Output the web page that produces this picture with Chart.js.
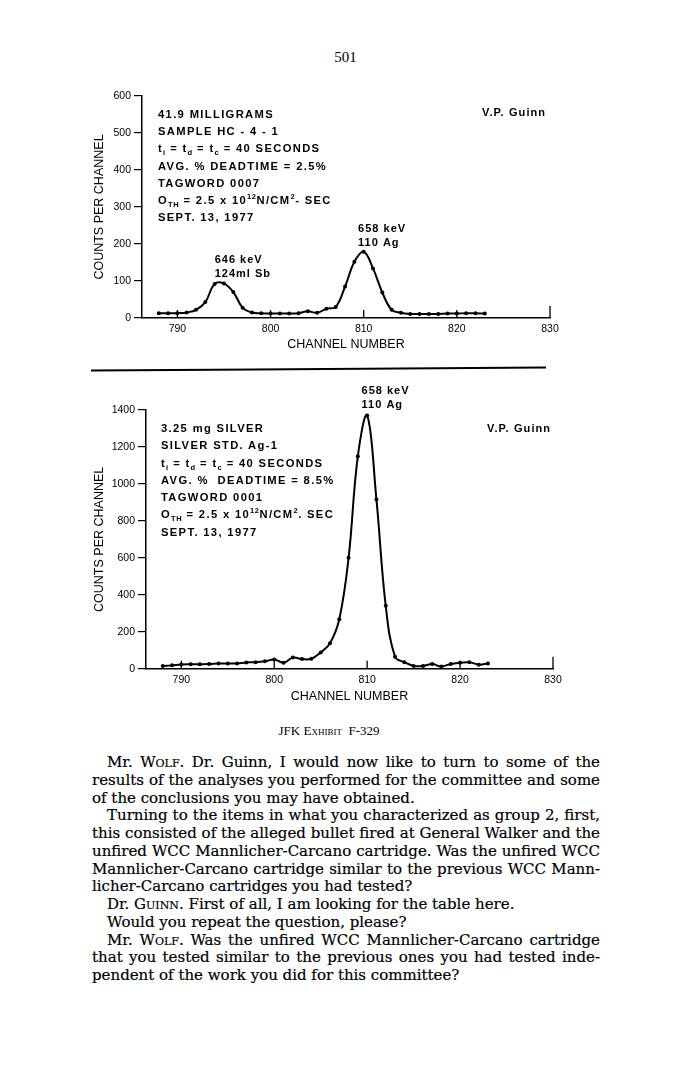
<!DOCTYPE html>
<html>
<head>
<meta charset="utf-8">
<script src="https://cdn.jsdelivr.net/npm/chart.js@4.4.1/dist/chart.umd.min.js"></script>
<style>
    html, body { margin: 0; padding: 0; background: #fff; }
    body { width: 691px; height: 1081px; position: relative; overflow: hidden; color: #000; font-family: "Liberation Sans", Arial, sans-serif; }
    #pageNo { position: absolute; left: 0; width: 691px; top: 49px; text-align: center; font: 15px "Liberation Serif", serif; }
    .chartBox { position: absolute; left: 88px; width: 512px; }
    #box1 { top: 86px; height: 270px; }
    #box2 { top: 378px; height: 330px; }
    .info { position: absolute; font-weight: bold; font-size: 11.2px; letter-spacing: 1.35px; line-height: 17.2px; white-space: nowrap; }
    .info sub, .info sup { font-size: 7.5px; line-height: 0; letter-spacing: 0.5px; }
    .guinn { position: absolute; font-weight: bold; font-size: 11px; letter-spacing: 1.1px; white-space: nowrap; line-height: 16px; }
    #rule { position: absolute; left: 91px; top: 368px; width: 455px; height: 2px; background: #000; transform: rotate(-0.35deg); }
    #caption { position: absolute; left: 229px; width: 200px; top: 723px; text-align: center; font: 13px "Liberation Serif", serif; }
    .sc { font-variant: small-caps; }
    #body { position: absolute; left: 92px; top: 754px; width: 508px; font: 15px "DejaVu Serif", serif; -webkit-text-stroke: 0.2px #000; }
    #body div { height: 17.75px; line-height: 17.75px; white-space: nowrap; text-align: justify; text-align-last: justify; }
    #body div.ind { padding-left: 15px; }
    #body div.end { text-align-last: left; }
</style>
</head>
<body>
<div id="pageNo">501</div>

<div class="chartBox" id="box1"><canvas id="chartSample" width="512" height="270"></canvas></div>
<div class="info" style="left:158px; top:106px;">
    41.9 MILLIGRAMS<br>
    SAMPLE HC - 4 - 1<br>
    t<sub>i</sub> = t<sub>d</sub> = t<sub>c</sub> = 40 SECONDS<br>
    AVG. % DEADTIME = 2.5%<br>
    TAGWORD 0007<br>
    O<sub>TH</sub> = 2.5 x 10<sup>12</sup>N/CM<sup>2</sup>- SEC<br>
    SEPT. 13, 1977
</div>
<div class="guinn" style="left:482px; top:104px;">V.P. Guinn</div>

<div id="rule"></div>

<div class="chartBox" id="box2"><canvas id="chartSilver" width="512" height="330"></canvas></div>
<div class="info" style="left:161px; top:420px; line-height:17.3px;">
    3.25 mg SILVER<br>
    SILVER STD. Ag-1<br>
    t<sub>i</sub> = t<sub>d</sub> = t<sub>c</sub> = 40 SECONDS<br>
    AVG. %&nbsp; DEADTIME = 8.5%<br>
    TAGWORD 0001<br>
    O<sub>TH</sub> = 2.5 x 10<sup>12</sup>N/CM<sup>2</sup>. SEC<br>
    SEPT. 13, 1977
</div>
<div class="guinn" style="left:487px; top:420px;">V.P. Guinn</div>

<div id="caption">JFK <span class="sc">Exhibit</span>&nbsp; F-329</div>

<div id="body">
    <div class="ind">Mr. <span class="sc">Wolf</span>. Dr. Guinn, I would now like to turn to some of the</div>
    <div>results of the analyses you performed for the committee and some</div>
    <div class="end">of the conclusions you may have obtained.</div>
    <div class="ind">Turning to the items in what you characterized as group 2, first,</div>
    <div>this consisted of the alleged bullet fired at General Walker and the</div>
    <div>unfired WCC Mannlicher-Carcano cartridge. Was the unfired WCC</div>
    <div>Mannlicher-Carcano cartridge similar to the previous WCC Mann-</div>
    <div class="end">licher-Carcano cartridges you had tested?</div>
    <div class="ind end">Dr. <span class="sc">Guinn</span>. First of all, I am looking for the table here.</div>
    <div class="ind end">Would you repeat the question, please?</div>
    <div class="ind">Mr. <span class="sc">Wolf</span>. Was the unfired WCC Mannlicher-Carcano cartridge</div>
    <div>that you tested similar to the previous ones you had tested inde-</div>
    <div class="end">pendent of the work you did for this committee?</div>
</div>

<script>
// === Data ===
const channels = [788, 789, 790, 791, 792, 793, 794, 795, 796, 797, 798, 799,
                  800, 801, 802, 803, 804, 805, 806, 807, 808, 809, 810, 811,
                  812, 813, 814, 815, 816, 817, 818, 819, 820, 821, 822, 823];

// sample HC-4-1 (41.9 mg)
const countsSample = [13, 13, 13, 15, 22, 43, 92, 93, 70, 28, 15, 13,
                      12, 12, 12, 13, 18, 14, 25, 30, 85, 152, 179, 134,
                      69, 22, 14, 11, 11, 11, 11, 12, 12, 13, 13, 12];

// silver standard Ag-1 (3.25 mg)
const countsSilver = [14, 18, 23, 24, 24, 25, 28, 28, 28, 34, 35, 40,
                      50, 32, 60, 52, 54, 88, 138, 268, 600, 1150, 1370, 915,
                      340, 65, 35, 15, 15, 25, 12, 26, 32, 35, 22, 28];

const xTicks = [790, 800, 810, 820, 830];
const yTicksSample = [0, 100, 200, 300, 400, 500, 600];
const yTicksSilver = [0, 200, 400, 600, 800, 1000, 1200, 1400];

// little upward tick marks on the channel axis, last one longer
const innerTicks = {
    id: "innerTicks",
    afterDraw(chart) {
        const ctx = chart.ctx;
        const xs = chart.scales.x;
        const y0 = chart.scales.y.getPixelForValue(0);
        ctx.save();
        ctx.strokeStyle = "#000";
        ctx.lineWidth = 1.3;
        xTicks.forEach((v, i) => {
            const px = xs.getPixelForValue(v);
            const len = i === xTicks.length - 1 ? 12 : 8;
            ctx.beginPath();
            ctx.moveTo(px, y0);
            ctx.lineTo(px, y0 - len);
            ctx.stroke();
        });
        ctx.restore();
    }
};

// peak labels placed in data units
const peakLabels = {
    id: "peakLabels",
    afterDraw(chart, args, opts) {
        const ctx = chart.ctx;
        ctx.save();
        ctx.fillStyle = "#000";
        ctx.font = "bold 11px 'Liberation Sans', Arial, sans-serif";
        ctx.letterSpacing = "1px";
        ctx.textBaseline = "middle";
        (opts.items || []).forEach(item => {
            const px = chart.scales.x.getPixelForValue(item.x);
            const py = chart.scales.y.getPixelForValue(item.y);
            item.lines.forEach((t, i) => ctx.fillText(t, px, py + i * 14));
        });
        ctx.restore();
    }
};

function makeChart(id, counts, yTicks, yMax, sizes, labels) {
    const ctx = document.getElementById(id).getContext("2d");
    const axisFont = { family: "'Liberation Sans', Arial, sans-serif", size: 12.5 };
    return new Chart(ctx, {
        type: "line",
        data: {
            datasets: [{
                data: channels.map((c, i) => ({ x: c, y: counts[i] })),
                borderColor: "#000",
                borderWidth: 2,
                pointRadius: 2,
                pointBackgroundColor: "#000",
                pointBorderWidth: 0,
                tension: 0.4,
                clip: false
            }]
        },
        options: {
            responsive: false,
            animation: false,
            events: [],
            layout: { padding: { top: sizes.top, right: sizes.right, left: 0, bottom: 0 } },
            scales: {
                x: {
                    type: "linear",
                    min: 786.2,
                    max: 830,
                    afterFit: s => { s.height = sizes.xH; },
                    afterBuildTicks: s => { s.ticks = xTicks.map(v => ({ value: v })); },
                    grid: { display: false, drawTicks: false },
                    border: { display: true, color: "#000", width: 1.5 },
                    ticks: { color: "#000", padding: 5, callback: v => String(v), font: { family: "'Liberation Sans', Arial, sans-serif", size: 10.5 } },
                    title: { display: true, text: "CHANNEL NUMBER", color: "#000", font: axisFont, padding: { top: 0, bottom: 3.5 } }
                },
                y: {
                    min: 0,
                    max: yMax,
                    afterFit: s => { s.width = sizes.yW; },
                    afterBuildTicks: s => { s.ticks = yTicks.map(v => ({ value: v })); },
                    grid: { drawOnChartArea: false, drawTicks: true, tickLength: 8, color: "#000", lineWidth: 1.2 },
                    border: { display: true, color: "#000", width: 1.5 },
                    ticks: { color: "#000", padding: 3, callback: v => String(v), font: { family: "'Liberation Sans', Arial, sans-serif", size: 10.5 } },
                    title: { display: true, text: "COUNTS PER CHANNEL", color: "#000", font: axisFont, padding: { top: 4.5, bottom: 0 } }
                }
            },
            plugins: {
                legend: { display: false },
                tooltip: { enabled: false },
                peakLabels: { items: labels }
            }
        },
        plugins: [innerTicks, peakLabels]
    });
}

makeChart("chartSample", countsSample, yTicksSample, 600,
    { top: 10, right: 50, yW: 54, xH: 38 },
    [
        { x: 794, y: 157, lines: ["646 keV", "124ml Sb"] },
        { x: 809.4, y: 240, lines: ["658 keV", "110 Ag"] }
    ]);

makeChart("chartSilver", countsSilver, yTicksSilver, 1400,
    { top: 32, right: 47, yW: 58, xH: 39.3 },
    [
        { x: 809.4, y: 1503, lines: ["658 keV", "110 Ag"] }
    ]);
</script>
</body>
</html>
